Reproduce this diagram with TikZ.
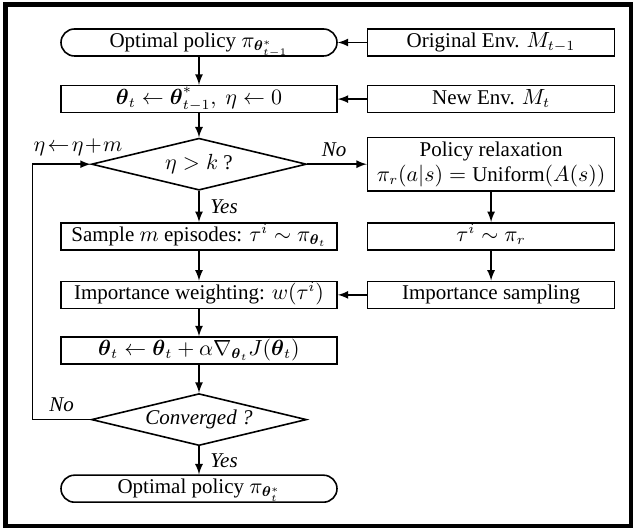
\documentclass[tikz,border=0pt]{standalone}
\usepackage{amsmath,amssymb}
\usepackage{fontspec}
\setmainfont{Liberation Serif}
\usetikzlibrary{shapes.geometric, arrows, positioning, calc}

\begin{document}
\begin{tikzpicture}[
    node distance=14pt,
    font=\fontsize{10.5}{12.5}\selectfont,
    block/.style={rectangle, draw, line width=0.8pt, minimum width=#1, minimum height=13.5pt, text height=8pt, text depth=3pt, inner xsep=1.5pt, inner ysep=1.25pt, align=center},
    block/.default=138pt,
    terminal/.style={block, rounded corners=6.75pt},
    decision/.style={diamond, draw, line width=0.8pt, aspect=4, inner sep=0pt, minimum width=107.5pt, minimum height=26pt},
    arrow/.style={-latex, line width=0.8pt},
    branch/.style={font=\fontsize{10.5}{12.5}\selectfont\itshape}
]
    \useasboundingbox (0,0) rectangle (317pt,264.5pt);
    \draw[line width=2.4pt] (2.75pt,1.5pt) rectangle (315.5pt,262.25pt);

    % main loop (left column)
    \node[terminal] (start) at (99.5pt,243.25pt) {Optimal policy $\pi_{\boldsymbol{\theta}^*_{t-1}}$};
    \node[block, below=of start] (init) {$\boldsymbol{\theta}_t \leftarrow \boldsymbol{\theta}^*_{t-1},\ \eta \leftarrow 0$};
    \node[decision, below=12pt of init] (cond) {$\eta > k$ ?};
    \node[block, below=15.5pt of cond] (sample) {Sample $m$ episodes: $\tau^i \sim \pi_{\boldsymbol{\theta}_t}$};
    \node[block, below=15pt of sample] (weight) {Importance weighting: $w(\tau^i)$};
    \node[block, below=13.5pt of weight] (update) {$\boldsymbol{\theta}_t \leftarrow \boldsymbol{\theta}_t + \alpha\nabla_{\boldsymbol{\theta}_t} J(\boldsymbol{\theta}_t)$};
    \node[decision, below=of update] (conv) {\itshape Converged ?};
    \node[terminal, below=of conv] (finish) {Optimal policy $\pi_{\boldsymbol{\theta}^*_t}$};

    % environments and relaxation (right column)
    \node[block=123.5pt, right=14.5pt of start] (oldenv) {Original Env. $M_{t-1}$};
    \node[block=123.5pt, right=14.5pt of init] (newenv) {New Env. $M_t$};
    \node[block=123.5pt, text height=, text depth=, inner ysep=2pt] (relax) at (newenv |- cond) {Policy relaxation\\$\pi_r(a|s) = \mathrm{Uniform}(A(s))$};
    \node[block=123.5pt] (rsample) at (newenv |- sample) {$\tau^i \sim \pi_r$};
    \node[block=123.5pt] (isample) at (newenv |- weight) {Importance sampling};

    \draw[arrow] (start) -- (init);
    \draw[arrow] (init) -- (cond);
    \draw[arrow] (cond) -- node[branch, right=2pt] {Yes} (sample);
    \draw[arrow] (sample) -- (weight);
    \draw[arrow] (weight) -- (update);
    \draw[arrow] (update) -- (conv);
    \draw[arrow] (conv) -- node[branch, right=2pt] {Yes} (finish);
    \draw[arrow] (oldenv) -- (start);
    \draw[arrow] (newenv) -- (init);
    \draw[arrow] (cond.east) -- node[branch, above, pos=0.45] {No} (cond.east -| relax.west);
    \draw[arrow] (relax) -- (rsample);
    \draw[arrow] (rsample) -- (isample);
    \draw[arrow] (isample) -- (weight);
    \draw[arrow] (conv.west) -- node[branch, above] {No} ++(-29pt,0)
        |- node[pos=0.5, anchor=south west, inner xsep=0pt, inner ysep=4pt] {$\eta\!\leftarrow\!\eta\!+\!m$} (cond.west);
\end{tikzpicture}
\end{document}
